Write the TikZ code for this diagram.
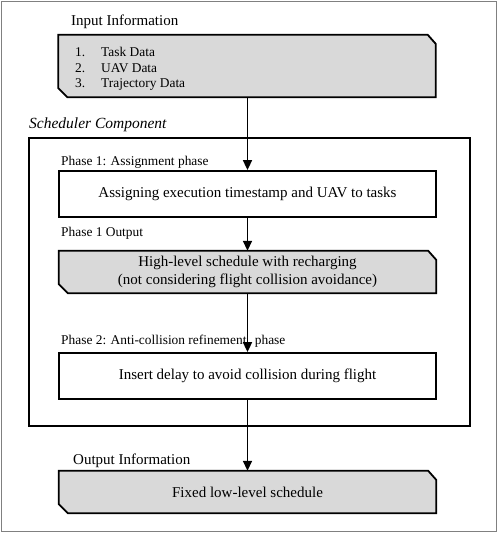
\documentclass[tikz,border=0pt]{standalone}
\usepackage{fontspec}
\setmainfont{Liberation Serif}
\usetikzlibrary{arrows.meta,backgrounds}
\definecolor{boxgray}{RGB}{217,217,217}
\definecolor{framegray}{RGB}{128,128,128}
\begin{document}
\begin{tikzpicture}[x=1pt,y=-1pt,
  bigtext/.style={font=\fontsize{15}{18}\selectfont},
  smalltext/.style={font=\fontsize{13.4}{16}\selectfont, inner sep=0pt, anchor=base west},
  labeltext/.style={font=\fontsize{15}{18}\selectfont, inner sep=0pt, anchor=base west},
  plainbox/.style={draw, line width=1.8pt, fill=white, minimum width=377pt, inner sep=0pt, bigtext},
  graybox/.style={minimum width=377pt, inner sep=0pt, bigtext},
  chamf/.style={draw, line width=1.8pt, fill=boxgray, line join=miter},
  flow/.style={line width=1.7pt, -{Triangle[length=10pt,width=9pt]}}]
\useasboundingbox (0,0) rectangle (498,533);
\draw[framegray, line width=1pt] (1.5,1.5) rectangle (496.5,531.5);

% scheduler component frame
\node[draw, line width=1.4pt, minimum width=441pt, minimum height=288pt, inner sep=0pt] (sched) at (249.5,282) {};
\node[labeltext, font=\fontsize{15.5}{18}\selectfont\itshape] (schedlbl) at (29,128) {Scheduler Component};

% input
\node[labeltext] (inlbl) at (71,25) {Input Information};
\node[graybox, minimum height=62pt] (in) at (247,66) {};
\node[smalltext] (n1) at (75,56) {1.};
\node[smalltext] (t1) at (101,56) {Task Data};
\node[smalltext] (n2) at (75,72) {2.};
\node[smalltext] (t2) at (101,72) {UAV Data};
\node[smalltext] (n3) at (75,87) {3.};
\node[smalltext] (t3) at (101,87) {Trajectory Data};

% phase 1
\node[smalltext] (p1lbl) at (61,165) {Phase 1: Assignment phase};
\node[plainbox, minimum height=46pt] (b1) at (247.5,194) {Assigning execution timestamp and UAV to tasks};

\node[smalltext] (p1out) at (61,236) {Phase 1 Output};
\node[graybox, minimum height=42pt, align=center] (b2) at (247.5,272) {High-level schedule with recharging\\(not considering flight collision avoidance)};

% phase 2
\node[smalltext] (p2lbl) at (61,344) {Phase 2: Anti-collision refinement\hspace{5pt} phase};
\node[plainbox, minimum height=46pt] (b3) at (247.5,376) {Insert delay to avoid collision during flight};

% output
\node[labeltext] (outlbl) at (73,464) {Output Information};
\node[graybox, minimum height=42pt] (out) at (247.5,492) {Fixed low-level schedule};

% chamfered gray outlines behind the gray boxes
\begin{scope}[on background layer]
\foreach \n in {in,b2,out}{
  \draw[chamf] (\n.north west) -- ([xshift=-8pt]\n.north east) -- ([yshift=-9pt]\n.north east)
     -- (\n.south east) -- ([xshift=9pt]\n.south west) -- ([yshift=9pt]\n.south west) -- cycle;
}
\end{scope}

% connectors
\draw[flow] (in.south -| b1.north) -- (b1.north);
\draw[flow] (b1.south) -- (b2.north);
\draw[flow] (b2.south) -- (b3.north);
\draw[flow] (b3.south) -- (out.north);
\end{tikzpicture}
\end{document}
